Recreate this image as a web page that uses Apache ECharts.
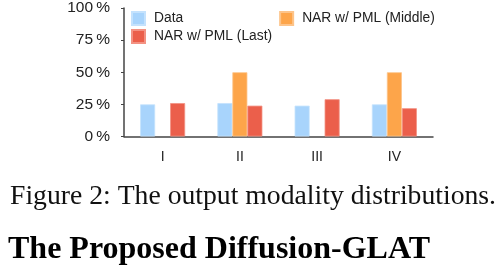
<!DOCTYPE html>
<html>
<head>
<meta charset="utf-8">
<script src="https://cdn.jsdelivr.net/npm/echarts@6/dist/echarts.min.js"></script>
<style>
html,body{margin:0;padding:0;background:#fff;}
#chart{width:496px;height:268px;}
</style>
</head>
<body>
<div id="chart"></div>
<script>
var categories = ['I', 'II', 'III', 'IV'];
var seriesNames = ['Data', 'NAR w/ PML (Middle)', 'NAR w/ PML (Last)'];
var dataValues = [25, 26, 24, 25];
var middleValues = [null, 50, null, 50];
var lastValues = [26, 24, 29, 22];
var yTickLabels = ['0\u2009%', '25\u2009%', '50\u2009%', '75\u2009%', '100\u2009%'];
var captionText = 'Figure 2: The output modality distributions.';
var headingText = 'The Proposed Diffusion-GLAT';

var chart = echarts.init(document.getElementById('chart'), null, {renderer: 'canvas'});
var sans = '"Liberation Sans", Arial, Helvetica, sans-serif';
var serif = '"Liberation Serif", "Times New Roman", serif';

chart.setOption({
  animation: false,
  backgroundColor: '#ffffff',
  color: ['#a8d4fc', '#fda54a', '#eb5f4b'],
  grid: {left: 124, right: 63, top: 7.5, bottom: 131.5, containLabel: false},
  legend: [
    {
      data: [seriesNames[0], seriesNames[1]],
      left: 131, top: 11,
      orient: 'horizontal',
      icon: 'rect',
      itemWidth: 13, itemHeight: 13,
      itemGap: 96,
      padding: 0,
      textStyle: {fontFamily: sans, fontSize: 13.8, color: '#222', padding: [0, 0, 0, 4]}
    },
    {
      data: [seriesNames[2]],
      left: 131, top: 29,
      orient: 'horizontal',
      icon: 'rect',
      itemWidth: 13, itemHeight: 13,
      padding: 0,
      textStyle: {fontFamily: sans, fontSize: 13.8, color: '#222', padding: [0, 0, 0, 4]}
    }
  ],
  xAxis: {
    type: 'category',
    data: categories,
    axisLine: {lineStyle: {color: '#444', width: 1.5}},
    axisTick: {show: false},
    axisLabel: {fontFamily: sans, fontSize: 14, color: '#222', margin: 14}
  },
  yAxis: {
    type: 'value',
    min: 0, max: 100, interval: 25,
    splitLine: {show: false},
    axisLine: {show: true, lineStyle: {color: '#444', width: 1.5}},
    axisTick: {show: true, length: 3, lineStyle: {color: '#444'}},
    axisLabel: {
      fontFamily: sans, fontSize: 15.5, color: '#222', margin: 14,
      formatter: function (v) { return yTickLabels[Math.round(v / 25)]; }
    }
  },
  series: [
    {name: seriesNames[0], type: 'bar', data: dataValues, barWidth: 15, barGap: '0%',
     itemStyle: {borderColor: '#c4e2fd', borderWidth: 0.8}},
    {name: seriesNames[1], type: 'bar', data: middleValues, barWidth: 15, barGap: '0%',
     itemStyle: {borderColor: '#fdc48a', borderWidth: 0.8}},
    {name: seriesNames[2], type: 'bar', data: lastValues, barWidth: 15, barGap: '0%',
     itemStyle: {borderColor: '#f39283', borderWidth: 0.8}}
  ],
  graphic: [
    {type: 'text', left: 10, top: 182.5,
     style: {text: captionText, font: '27.7px ' + serif, fill: '#111'}},
    {type: 'text', left: 8, top: 234,
     style: {text: headingText, font: 'bold 32px ' + serif, fill: '#000'}}
  ]
});
</script>
</body>
</html>
